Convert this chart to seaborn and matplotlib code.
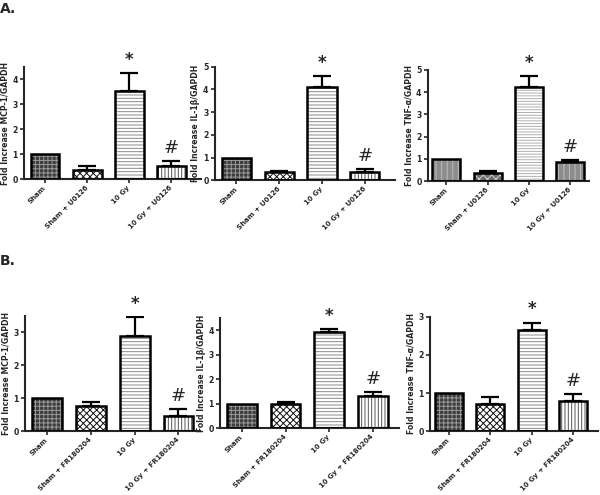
import numpy as np
import pandas as pd
import seaborn as sns
import matplotlib.pyplot as plt

# data (mean and upper error)
groups_a = ["Sham", "Sham + U0126", "10 Gy", "10 Gy + U0126"]
groups_b = ["Sham", "Sham + FR180204", "10 Gy", "10 Gy + FR180204"]

mcp1_a = [1.0, 0.38, 3.52, 0.53]
mcp1_a_err = [0.0, 0.14, 0.73, 0.19]
il1b_a = [1.0, 0.35, 4.12, 0.38]
il1b_a_err = [0.0, 0.07, 0.46, 0.12]
tnfa_a = [1.0, 0.38, 4.25, 0.85]
tnfa_a_err = [0.0, 0.07, 0.45, 0.10]

mcp1_b = [1.0, 0.75, 2.9, 0.45]
mcp1_b_err = [0.0, 0.13, 0.55, 0.23]
il1b_b = [1.0, 0.97, 3.92, 1.3]
il1b_b_err = [0.0, 0.08, 0.13, 0.18]
tnfa_b = [1.0, 0.7, 2.65, 0.8]
tnfa_b_err = [0.0, 0.2, 0.2, 0.18]

ylabels = ["Fold Increase MCP-1/GAPDH", "Fold Increase IL-1β/GAPDH", "Fold Increase TNF-α/GAPDH"]

sns.set_style("ticks")
plt.rcParams['font.family'] = ['DejaVu Sans']
plt.rcParams['hatch.linewidth'] = 0.7

fig = plt.figure(figsize=(6, 4.95), dpi=100)

# (face, hatch, hatch colour) per bar
style_std = [("#3c3c3c", "++++", "#9a9a9a"),
             ("white", "xxxxx", "#111111"),
             ("white", "-----", "#8a8a8a"),
             ("white", "|||||", "#555555")]
style_tnf = [("#8c8c8c", "|||", "#bdbdbd"),
             ("#6e6e6e", "xxxx", "#d0d0d0"),
             ("white", "------", "#b0b0b0"),
             ("#8c8c8c", "|||", "#c0c0c0")]

panels = [
    ([0.040, 0.638, 0.295, 0.227], groups_a, mcp1_a, mcp1_a_err, ylabels[0], (0, 4.5), [0, 1, 2, 3, 4], (-0.5, 3.7), style_std),
    ([0.358, 0.636, 0.300, 0.229], groups_a, il1b_a, il1b_a_err, ylabels[1], (0, 5), [0, 1, 2, 3, 4, 5], (-0.5, 3.7), style_std),
    ([0.713, 0.634, 0.268, 0.225], groups_a, tnfa_a, tnfa_a_err, ylabels[2], (0, 5), [0, 1, 2, 3, 4, 5], (-0.45, 3.45), style_tnf),
    ([0.042, 0.129, 0.292, 0.233], groups_b, mcp1_b, mcp1_b_err, ylabels[0], (0, 3.5), [0, 1, 2, 3], (-0.5, 3.5), style_std),
    ([0.367, 0.135, 0.298, 0.223], groups_b, il1b_b, il1b_b_err, ylabels[1], (0, 4.5), [0, 1, 2, 3, 4], (-0.5, 3.6), style_std),
    ([0.717, 0.129, 0.280, 0.231], groups_b, tnfa_b, tnfa_b_err, ylabels[2], (0, 3), [0, 1, 2, 3], (-0.45, 3.6), style_std),
]

for rect, groups, vals, errs, ylab, ylim, yticks, xlim, styles in panels:
    ax = fig.add_axes(rect)
    df = pd.DataFrame({"group": groups, "value": vals})
    # hatched fill
    sns.barplot(data=df, x="group", y="value", ax=ax, errorbar=None, width=0.68, color="white")
    for p, (face, hatch, hc) in zip(ax.patches, styles):
        p.set_facecolor(face)
        p.set_hatch(hatch)
        p.set_edgecolor(hc)
        p.set_linewidth(0)
    n = len(ax.patches)
    # black outline on top
    sns.barplot(data=df, x="group", y="value", ax=ax, errorbar=None, width=0.68, color="white")
    for p in ax.patches[n:]:
        p.set_facecolor("none")
        p.set_edgecolor("black")
        p.set_linewidth(1.8)
        p.set_zorder(3)

    x = np.arange(len(groups))
    ax.errorbar(x[1:], vals[1:], yerr=[np.zeros(3), errs[1:]], fmt="none", ecolor="black",
                elinewidth=1.6, capsize=6.5, capthick=1.6, zorder=2)

    ax.annotate("*", (2, vals[2] + errs[2]), xytext=(0, 3), textcoords="offset points",
                ha="center", va="bottom", fontsize=12, fontweight="bold")
    ax.annotate("#", (3, vals[3] + errs[3]), xytext=(0, 3), textcoords="offset points",
                ha="center", va="bottom", fontsize=13)

    ax.set_ylim(*ylim)
    ax.set_yticks(yticks)
    ax.set_xlim(*xlim)
    ax.set_xlabel("")
    ax.set_ylabel(ylab, fontsize=5.6, fontweight="bold", labelpad=2)
    ax.set_xticks(x)
    ax.set_xticklabels(groups, rotation=45, ha="right", va="center", rotation_mode="anchor",
                       fontsize=5.0, fontweight="bold")
    for t in ax.get_yticklabels():
        t.set_fontsize(5.6)
        t.set_fontweight("bold")
    sns.despine(ax=ax)
    for s in ["left", "bottom"]:
        ax.spines[s].set_linewidth(1.5)
    ax.tick_params(axis="both", width=1.2, length=3, pad=1.5)
    ax.tick_params(axis="x", pad=2.5)

fig.text(0.0, 0.995, "A.", fontsize=10, fontweight="bold", va="top")
fig.text(0.0, 0.487, "B.", fontsize=10, fontweight="bold", va="top")

fig.savefig("out.png", dpi=100)
